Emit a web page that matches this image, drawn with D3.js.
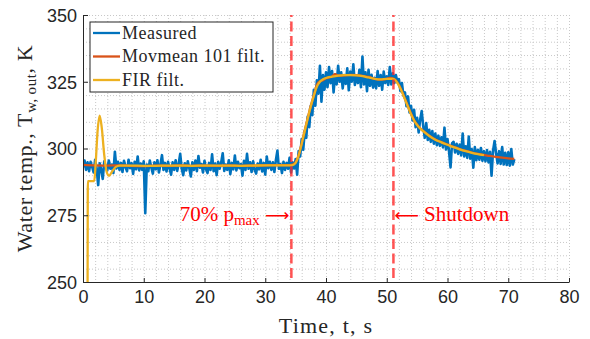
<!DOCTYPE html>
<html>
<head>
<meta charset="utf-8">
<script src="https://cdn.jsdelivr.net/npm/d3@7"></script>
<style>
  body { margin: 0; background: #fff; }
  svg { display: block; }
</style>
</head>
<body>
<div id="chart"></div>
<script>
// tick labels
const xTicks = [0, 10, 20, 30, 40, 50, 60, 70, 80];
const yTicks = [250, 275, 300, 325, 350];

// measured outlet temperature, one sample every 0.25 s from t = 0
const sampleStep = 0.25;
const measured = [
  293.0, 295.5, 292.0, 294.8,  291.5, 295.0, 293.2, 291.0,  295.8, 292.5, 286.3, 294.5,
  292.0, 288.6, 295.2, 293.0,  291.8, 295.5, 292.4, 294.0,  290.8, 298.8, 292.5, 295.0,
  292.0, 294.6, 291.2, 295.4,  293.0, 291.5, 295.8, 292.6,  294.5, 290.5, 295.0, 292.2,
  297.0, 291.8, 294.4, 292.0,  295.2, 275.8, 294.0, 291.5,  295.5, 292.8, 290.6, 294.8,
  292.2, 295.6, 291.0, 294.0,  297.5, 292.0, 294.6, 291.4,  295.0, 292.5, 290.2, 294.8,
  292.0, 295.6, 291.6, 294.2,  298.0, 292.4, 290.0, 294.5,  291.8, 295.2, 292.6, 289.5,
  294.8, 292.0, 295.5, 291.5,  297.2, 292.8, 294.2, 291.0,  295.4, 292.2, 290.8, 294.6,
  292.0, 297.8, 291.5, 294.4,  290.0, 295.0, 292.4, 294.8,  298.2, 291.6, 294.0, 292.0,
  295.6, 290.4, 294.6, 292.2,  297.4, 291.8, 295.0, 292.6,  294.2, 289.8, 295.4, 292.0,
  298.0, 292.4, 294.8, 291.2,  295.2, 292.0, 290.6, 294.4,  292.2, 295.8, 291.4, 294.6,
  290.2, 297.0, 292.6, 295.0,  292.0, 294.8, 291.2, 295.6,  299.2, 292.4, 294.2, 290.8,
  295.0, 292.0, 294.6, 292.4,  296.5, 291.0, 294.8, 292.5,  296.0, 290.2, 299.0, 297.0,
  303.5, 299.5, 306.5, 304.0,  312.0, 308.0, 316.0, 312.5,  322.0, 316.0, 325.5, 320.5,
  331.0, 317.5, 327.5, 322.0,  328.5, 323.0, 330.5, 324.5,  329.0, 321.0, 327.8, 324.0,
  331.0, 325.0, 328.5, 322.5,  327.5, 324.2, 330.0, 321.8,  328.8, 325.0, 331.5, 323.8,
  327.0, 324.5, 329.5, 323.0,  334.4, 324.0, 328.5, 321.5,  329.5, 323.5, 327.6, 322.8,
  326.5, 322.5, 329.0, 323.5,  327.5, 322.0, 328.8, 324.5,  327.0, 323.8, 330.5, 324.0,
  328.2, 324.5, 327.5, 325.0,  326.0, 321.5, 324.5, 319.8,  321.0, 315.8, 319.5, 313.5,
  316.0, 310.5, 314.5, 308.0,  311.5, 306.0, 310.8, 314.0,  308.5, 304.0, 309.5, 303.2,
  307.0, 302.5, 306.5, 301.8,  305.6, 301.2, 304.8, 301.0,  304.2, 300.4, 307.8, 299.6,
  303.5, 299.0, 292.9, 302.0,  302.5, 298.5, 301.8, 298.0,  301.5, 297.4, 305.6, 297.0,
  300.8, 296.5, 304.5, 296.2,  299.8, 292.8, 300.5, 295.6,  299.5, 295.8, 300.2, 295.4,
  299.0, 295.2, 299.4, 294.8,  298.8, 289.8, 299.2, 302.8,  298.2, 294.4, 299.0, 294.2,
  300.5, 294.0, 298.4, 293.8,  298.6, 293.6, 299.8, 294.0,  296.0
];

// moving mean (101 samples) [t, T]
const movmean = [
  [0, 293.9], [2, 293.7], [4, 293.6], [6, 293.7], [8, 293.5], [10, 293.4], [12, 293.6],
  [14, 293.5], [16, 293.7], [18, 293.5], [20, 293.6], [22, 293.5], [24, 293.7], [26, 293.5],
  [28, 293.6], [30, 293.7], [32, 293.8], [34, 293.8], [34.5, 294.0], [35, 294.8], [35.5, 297.6],
  [36, 302.0], [36.5, 306.8], [37, 311.5], [37.5, 316.0], [38, 320.0], [38.5, 323.8], [39, 325.2],
  [39.5, 325.6], [40, 326.3], [40.5, 326.6], [41, 327.0], [41.5, 327.8], [42, 327.3], [43, 327.4],
  [44, 327.6], [45, 327.5], [46, 327.2], [47, 326.8], [48, 326.1], [49, 325.8], [50, 326.1],
  [50.5, 326.4], [51, 326.3], [51.5, 325.5], [52, 323.8], [52.5, 321.4], [53, 318.6], [53.5, 315.8],
  [54, 313.0], [54.5, 310.6], [55, 308.9], [55.5, 307.6], [56, 306.6], [57, 304.8], [58, 303.4],
  [59, 302.4], [60, 301.5], [61, 300.6], [62, 299.8], [63, 299.1], [64, 298.5], [65, 298.0],
  [66, 297.6], [67, 297.2], [68, 296.9], [69, 296.6], [70, 296.3], [71, 296.1]
];

// FIR filtered [t, T]
const fir = [
  [0.75, 240.0], [0.8, 287.8], [1.85, 287.8], [2.1, 295.0], [2.4, 306.5], [2.75, 312.3],
  [3.1, 307.5], [3.5, 297.5], [3.9, 291.2], [4.3, 289.8], [4.8, 291.4], [5.4, 293.1], [6, 293.6],
  [8, 293.6], [10, 293.5], [12, 293.5], [14, 293.6], [16, 293.6], [18, 293.5], [20, 293.6],
  [22, 293.6], [24, 293.6], [26, 293.5], [28, 293.6], [30, 293.7], [32, 293.7], [34, 293.7],
  [34.5, 293.8], [35, 294.6], [35.5, 297.4], [36, 301.8], [36.5, 306.6], [37, 311.3], [37.5, 315.8],
  [38, 319.8], [38.5, 323.2], [39, 325.0], [39.5, 325.9], [40, 326.4], [41, 326.9], [42, 327.3],
  [43, 327.5], [44, 327.5], [45, 327.4], [46, 327.1], [47, 326.6], [48, 326.1], [49, 325.9],
  [50, 326.1], [51, 326.1], [51.5, 325.4], [52, 323.6], [52.5, 321.2], [53, 318.4], [53.5, 315.6],
  [54, 312.8], [54.5, 310.5], [55, 308.8], [55.5, 307.5], [56, 306.5], [57, 304.7], [58, 303.3],
  [59, 302.3], [60, 301.4], [61, 300.5], [62, 299.7], [63, 299.0], [64, 298.4], [65, 297.9],
  [66, 297.5]
];

// event markers
const events = [
  {t: 34.3, label: "70% p", sub: "max", side: "left"},
  {t: 51.1, label: "Shutdown", side: "right"}
];

const legendItems = [
  {name: "Measured", color: "#0072BD"},
  {name: "Movmean 101 filt.", color: "#D95319"},
  {name: "FIR filt.", color: "#EDB120"}
];

const W = 590, H = 339;
const margin = {top: 15, right: 21, bottom: 57, left: 83};
const width = W - margin.left - margin.right;
const height = H - margin.top - margin.bottom;
const axisColor = "#262626";
const serif = "'Liberation Serif', 'Times New Roman', serif";
const sans = "'Liberation Sans', Arial, Helvetica, sans-serif";
const arrowFont = "'DejaVu Sans', sans-serif";

const x = d3.scaleLinear().domain([0, 80]).range([0, width]);
const y = d3.scaleLinear().domain([250, 350]).range([height, 0]);

const svg = d3.select("#chart").append("svg")
  .attr("width", W)
  .attr("height", H);

svg.append("defs").append("clipPath").attr("id", "clip")
  .append("rect").attr("width", width).attr("height", height);

const g = svg.append("g").attr("transform", "translate(" + margin.left + "," + margin.top + ")");

// dotted grid (major + minor)
const grid = g.append("g").attr("stroke", "#c8c8c8").attr("stroke-width", 1)
  .attr("stroke-dasharray", "1,2");
grid.selectAll(".gx").data(d3.range(0, 81, 2)).enter().append("line")
  .attr("x1", d => x(d) + 0.5).attr("x2", d => x(d) + 0.5)
  .attr("y1", 0).attr("y2", height);
grid.selectAll(".gy").data(d3.range(250, 351, 5)).enter().append("line")
  .attr("y1", d => y(d) + 0.5).attr("y2", d => y(d) + 0.5)
  .attr("x1", 0).attr("x2", width);

// data
const plot = g.append("g").attr("clip-path", "url(#clip)");

const measuredLine = d3.line()
  .x((d, i) => x(i * sampleStep))
  .y(d => y(d));

plot.append("path")
  .datum(measured)
  .attr("fill", "none")
  .attr("stroke", legendItems[0].color)
  .attr("stroke-width", 2.6)
  .attr("stroke-linejoin", "round")
  .attr("d", measuredLine);

const smoothLine = d3.line()
  .x(d => x(d[0]))
  .y(d => y(d[1]))
  .curve(d3.curveMonotoneX);

plot.append("path")
  .datum(movmean)
  .attr("fill", "none")
  .attr("stroke", legendItems[1].color)
  .attr("stroke-width", 2.3)
  .attr("d", smoothLine);

plot.append("path")
  .datum(fir)
  .attr("fill", "none")
  .attr("stroke", legendItems[2].color)
  .attr("stroke-width", 2.3)
  .attr("d", smoothLine);

// event lines
g.selectAll(".event").data(events).enter().append("line")
  .attr("x1", d => x(d.t)).attr("x2", d => x(d.t))
  .attr("y1", 0).attr("y2", height)
  .attr("stroke", "rgba(255,40,40,0.8)")
  .attr("stroke-width", 2.5)
  .attr("stroke-dasharray", "10,4.5")
  .attr("stroke-dashoffset", 8);

const ann = g.selectAll(".ann").data(events).enter().append("text")
  .attr("x", d => d.side === "left" ? x(d.t) - 2 : x(d.t) + 1)
  .attr("y", y(272.8))
  .attr("text-anchor", d => d.side === "left" ? "end" : "start")
  .attr("fill", "#ff0000")
  .style("font-family", serif)
  .style("font-size", "21px");
ann.each(function(d) {
  const t = d3.select(this);
  if (d.side === "left") {
    t.append("tspan").text(d.label);
    t.append("tspan").attr("dy", 4).style("font-size", "15px").text(d.sub);
    t.append("tspan").attr("dy", -4).text(" ");
    t.append("tspan").style("font-family", arrowFont).style("font-size", "17px").text("\u27F6");
  } else {
    t.append("tspan").style("font-family", arrowFont).style("font-size", "17px").text("\u27F5");
    t.append("tspan").text(" " + d.label);
  }
});

// axes
const xAxis = g.append("g")
  .attr("transform", "translate(0," + height + ")")
  .call(d3.axisBottom(x).tickValues(xTicks).tickSizeInner(-4).tickSizeOuter(0).tickPadding(8));
const yAxis = g.append("g")
  .call(d3.axisLeft(y).tickValues(yTicks).tickSizeInner(-5).tickSizeOuter(0).tickPadding(6));

[xAxis, yAxis].forEach(a => {
  a.select(".domain").attr("stroke", axisColor);
  a.selectAll(".tick line").attr("stroke", axisColor);
  a.selectAll(".tick text")
    .attr("fill", axisColor)
    .style("font-family", sans)
    .style("font-size", "18px");
});
yAxis.selectAll(".tick text").attr("dy", "0.36em");

// axis titles
svg.append("text")
  .attr("x", margin.left + width / 2)
  .attr("y", 333)
  .attr("text-anchor", "middle")
  .attr("fill", axisColor)
  .style("font-family", serif)
  .style("font-size", "22px")
  .style("letter-spacing", "1.2px")
  .text("Time, t, s");

const yt = svg.append("text")
  .attr("transform", "translate(32," + (margin.top + height / 2) + ") rotate(-90)")
  .attr("text-anchor", "middle")
  .attr("fill", axisColor)
  .style("font-family", serif)
  .style("font-size", "22px")
  .style("letter-spacing", "0.6px");
yt.append("tspan").text("Water temp., T");
yt.append("tspan").attr("dy", 4).style("font-size", "15px").text("w,\u2009out");
yt.append("tspan").attr("dy", -4).text(", K");

// legend
const lg = g.append("g").attr("transform", "translate(7,7)");
lg.append("rect")
  .attr("width", 183).attr("height", 70)
  .attr("fill", "#fff")
  .attr("stroke", axisColor)
  .attr("stroke-width", 1);
const li = lg.selectAll(".li").data(legendItems).enter().append("g")
  .attr("transform", (d, i) => "translate(0," + (11 + i * 23.5) + ")");
li.append("line")
  .attr("x1", 3).attr("x2", 30)
  .attr("stroke", d => d.color)
  .attr("stroke-width", 2.3);
li.append("text")
  .attr("x", 32).attr("y", 5.5)
  .attr("fill", axisColor)
  .style("font-family", serif)
  .style("font-size", "18px")
  .style("letter-spacing", "0.5px")
  .text(d => d.name);
</script>
</body>
</html>
